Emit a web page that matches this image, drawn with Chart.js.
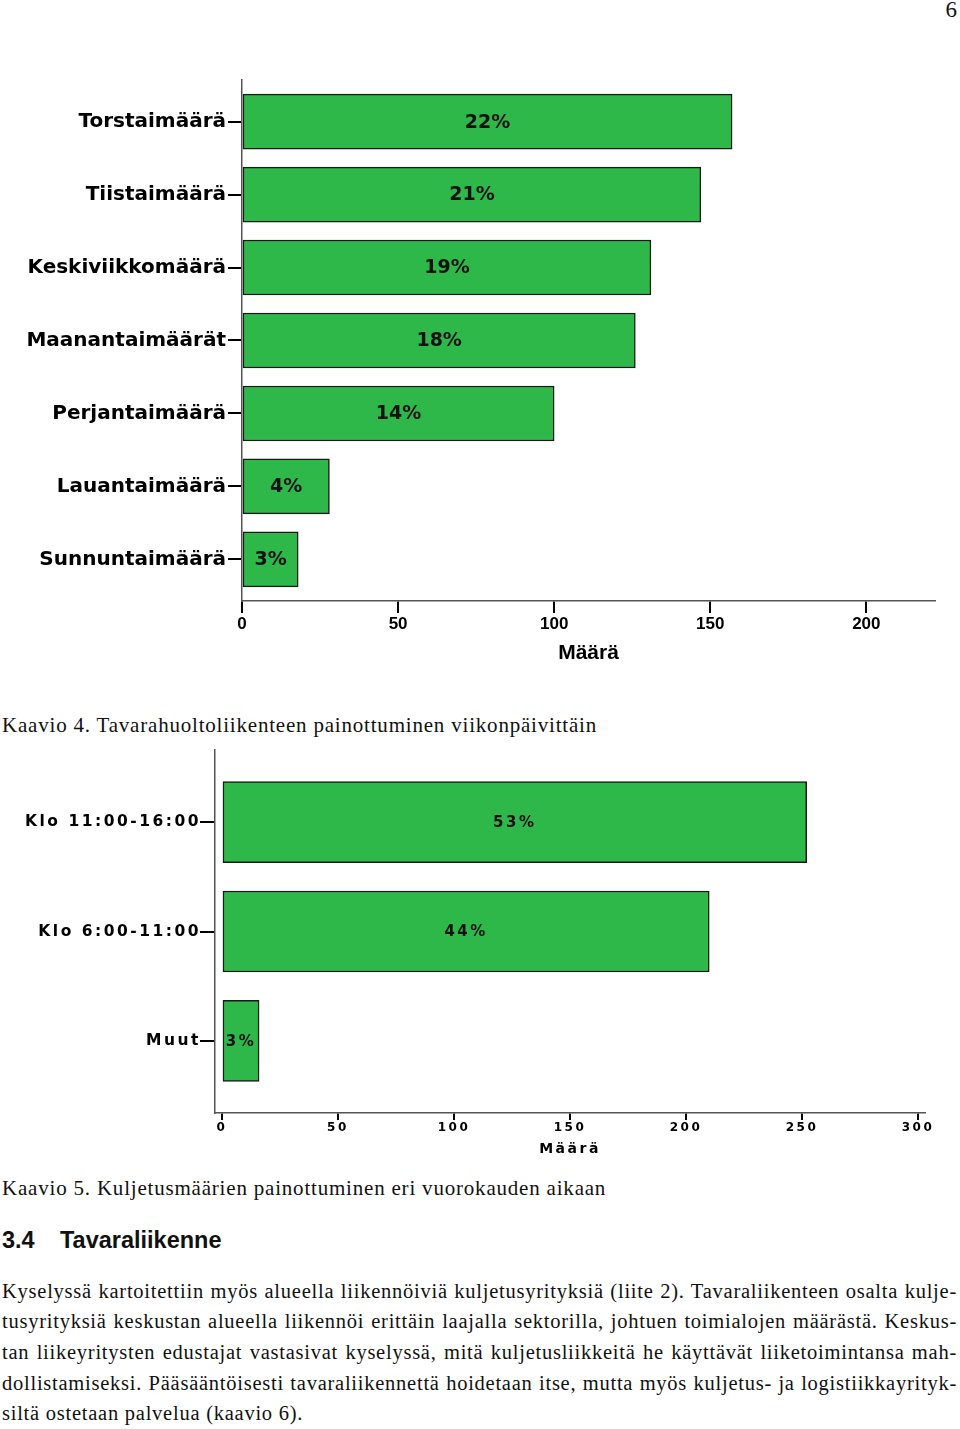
<!DOCTYPE html>
<html>
<head>
<meta charset="utf-8">
<title>Kaavio 4 ja 5</title>
<script src="https://cdn.jsdelivr.net/npm/chart.js@4.4.0/dist/chart.umd.min.js"></script>
<style>
  body { margin: 0; background: #fff; width: 960px; height: 1429px; position: relative; overflow: hidden; }
  .abs { position: absolute; }
  .serif { font-family: "Liberation Serif", "DejaVu Serif", serif; color: #111; }
  .caption { left: 2px; font-size: 21px; line-height: 30px; letter-spacing: 0.8px; white-space: nowrap; }
  .heading { font-family: "Liberation Sans", Arial, sans-serif; font-weight: bold; font-size: 23.5px; line-height: 30px; color: #111; }
  .line { left: 2px; width: 955px; font-size: 20.5px; line-height: 30px; letter-spacing: 0.75px; white-space: nowrap; text-align: justify; text-align-last: justify; }
  .line.last { text-align-last: left; }
  canvas { position: absolute; left: 0; }
</style>
</head>
<body>

<div class="abs serif" style="right:3px; top:-5px; font-size:23px; line-height:30px;">6</div>

<canvas id="dayChart" width="960" height="620" style="top:60px"></canvas>
<div class="abs serif caption" style="top:710px">Kaavio 4. Tavarahuoltoliikenteen painottuminen viikonpäivittäin</div>

<canvas id="timeChart" width="960" height="430" style="top:740px"></canvas>
<div class="abs serif caption" style="top:1173px">Kaavio 5. Kuljetusmäärien painottuminen eri vuorokauden aikaan</div>

<div class="abs heading" style="left:2px; top:1225px">3.4</div>
<div class="abs heading" style="left:60px; top:1225px">Tavaraliikenne</div>

<div class="abs serif line" style="top:1276px">Kyselyssä kartoitettiin myös alueella liikennöiviä kuljetusyrityksiä (liite 2). Tavaraliikenteen osalta kulje-</div>
<div class="abs serif line" style="top:1306px">tusyrityksiä keskustan alueella liikennöi erittäin laajalla sektorilla, johtuen toimialojen määrästä. Keskus-</div>
<div class="abs serif line" style="top:1337px">tan liikeyritysten edustajat vastasivat kyselyssä, mitä kuljetusliikkeitä he käyttävät liiketoimintansa mah-</div>
<div class="abs serif line" style="top:1368px">dollistamiseksi. Pääsääntöisesti tavaraliikennettä hoidetaan itse, mutta myös kuljetus- ja logistiikkayrityk-</div>
<div class="abs serif line last" style="top:1398px">siltä ostetaan palvelua (kaavio 6).</div>

<script>
// Kaavio 4
var dayLabels = ['Torstaimäärä', 'Tiistaimäärä', 'Keskiviikkomäärä', 'Maanantaimäärät', 'Perjantaimäärä', 'Lauantaimäärä', 'Sunnuntaimäärä'];
var dayCounts = [157, 147, 131, 126, 100, 28, 18];
var dayShares = ['22%', '21%', '19%', '18%', '14%', '4%', '3%'];
var dayTicks = [0, 50, 100, 150, 200];

// Kaavio 5
var timeLabels = ['Klo 11:00-16:00', 'Klo 6:00-11:00', 'Muut'];
var timeCounts = [252, 210, 16];
var timeShares = ['53%', '44%', '3%'];
var timeTicks = [0, 50, 100, 150, 200, 250, 300];

var green = '#2fb84a';
var edge = '#1a1a1a';

Chart.defaults.animation = false;
Chart.defaults.color = '#000';

// percent text in the middle of each bar
var barText = {
  id: 'barText',
  afterDatasetsDraw: function(chart, args, opts) {
    var ctx = chart.ctx;
    var meta = chart.getDatasetMeta(0);
    ctx.save();
    ctx.font = opts.font;
    ctx.letterSpacing = opts.spacing || '0px';
    ctx.fillStyle = '#111';
    ctx.textAlign = 'center';
    ctx.textBaseline = 'middle';
    meta.data.forEach(function(bar, i) {
      ctx.fillText(opts.labels[i], (bar.x + bar.base) / 2, bar.y + 1);
    });
    ctx.restore();
  }
};

// wide letter spacing used in the second chart
var spacing = {
  id: 'spacing',
  beforeDraw: function(chart, args, opts) {
    chart.ctx.letterSpacing = opts.value || '0px';
  }
};

function tickFilter(list) {
  return function(scale) {
    scale.ticks = list.map(function(v) { return { value: v }; });
  };
}

new Chart(document.getElementById('dayChart'), {
  type: 'bar',
  data: {
    datasets: [{
      data: dayCounts.map(function(v, i) { return { x: v, y: i }; }),
      backgroundColor: green,
      borderColor: edge,
      borderWidth: 1.5,
      borderSkipped: false,
      barThickness: 55
    }]
  },
  options: {
    indexAxis: 'y',
    responsive: false,
    layout: { padding: { top: 20, right: 25, left: 0, bottom: 0 } },
    plugins: {
      legend: { display: false },
      tooltip: { enabled: false },
      barText: { labels: dayShares, font: 'bold 19px "DejaVu Sans"' }
    },
    scales: {
      y: {
        type: 'linear',
        reverse: true,
        offset: false,
        min: -0.57,
        max: 6.57,
        afterBuildTicks: tickFilter(dayLabels.map(function(l, i) { return i; })),
        afterFit: function(s) { s.width = 242; },
        ticks: {
          autoSkip: false,
          padding: 2,
          color: '#000',
          font: { family: 'DejaVu Sans', weight: 'bold', size: 20 },
          callback: function(v) { return dayLabels[v]; }
        },
        grid: { offset: false, drawOnChartArea: false, tickLength: 14, color: '#000', lineWidth: 2 },
        border: { color: '#555', width: 1.5 }
      },
      x: {
        type: 'linear',
        min: 0,
        max: 222,
        afterBuildTicks: tickFilter(dayTicks),
        afterFit: function(s) { s.height = 79; },
        ticks: {
          padding: 1,
          color: '#000',
          font: { family: 'Liberation Sans', weight: 'bold', size: 17 }
        },
        grid: { drawOnChartArea: false, tickLength: 12, color: '#000', lineWidth: 2 },
        border: { color: '#555', width: 1.5 },
        title: {
          display: true,
          text: 'Määrä',
          color: '#000',
          font: { family: 'Liberation Sans', weight: 'bold', size: 21 },
          padding: { top: 0, bottom: 14 }
        }
      }
    }
  },
  plugins: [barText]
});

new Chart(document.getElementById('timeChart'), {
  type: 'bar',
  data: {
    datasets: [{
      data: timeCounts.map(function(v, i) { return { x: v, y: i }; }),
      backgroundColor: green,
      borderColor: edge,
      borderWidth: 1.5,
      borderSkipped: false,
      barThickness: 81
    }]
  },
  options: {
    indexAxis: 'y',
    responsive: false,
    layout: { padding: { top: 10, right: 35, left: 0, bottom: 0 } },
    plugins: {
      legend: { display: false },
      tooltip: { enabled: false },
      spacing: { value: '2.5px' },
      barText: { labels: timeShares, font: 'bold 15px "DejaVu Sans"', spacing: '2.5px' }
    },
    scales: {
      y: {
        type: 'linear',
        reverse: true,
        offset: false,
        min: -0.66,
        max: 2.66,
        afterBuildTicks: tickFilter(timeLabels.map(function(l, i) { return i; })),
        afterFit: function(s) { s.width = 215; },
        ticks: {
          autoSkip: false,
          padding: -1,
          color: '#000',
          font: { family: 'DejaVu Sans', weight: 'bold', size: 15.5 },
          callback: function(v) { return timeLabels[v]; }
        },
        grid: { offset: false, drawOnChartArea: false, tickLength: 15, color: '#000', lineWidth: 2 },
        border: { color: '#555', width: 1.5 }
      },
      x: {
        type: 'linear',
        min: -3,
        max: 303,
        afterBuildTicks: tickFilter(timeTicks),
        afterFit: function(s) { s.height = 57; },
        ticks: {
          padding: 1,
          color: '#000',
          font: { family: 'DejaVu Sans', weight: 'bold', size: 12 }
        },
        grid: { drawOnChartArea: false, tickLength: 7, color: '#000', lineWidth: 2 },
        border: { color: '#555', width: 1.5 },
        title: {
          display: true,
          text: 'Määrä',
          color: '#000',
          font: { family: 'DejaVu Sans', weight: 'bold', size: 14 },
          padding: { top: 0, bottom: 12 }
        }
      }
    }
  },
  plugins: [spacing, barText]
});
</script>
</body>
</html>
